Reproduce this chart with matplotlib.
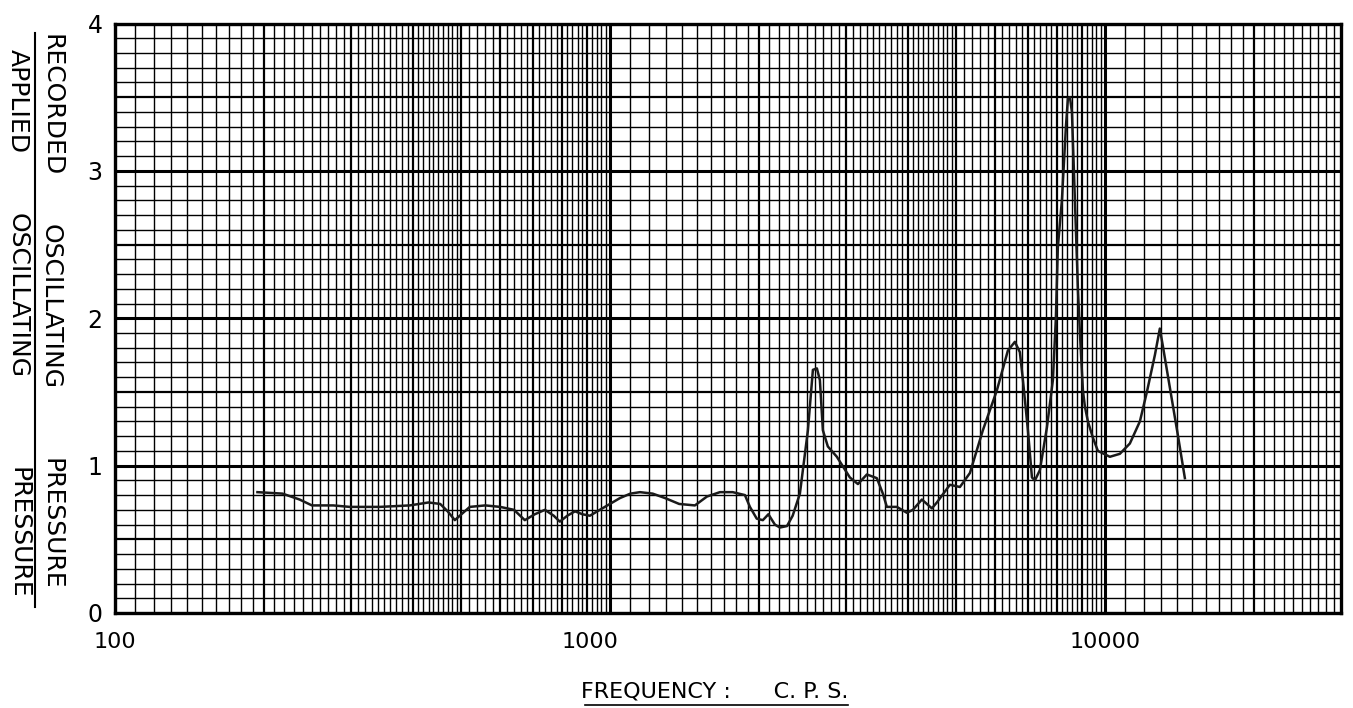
import numpy as np
import matplotlib.pyplot as plt
import matplotlib.transforms as mtransforms
from matplotlib.lines import Line2D

# frequency response of the gauge: recorded / applied oscillating pressure
freq = [194, 218, 236, 250, 276, 298, 343, 394, 430, 454, 470, 486, 505, 521,
        560, 600, 640, 673, 705, 739, 770, 792, 820, 850, 880, 911, 954, 1000,
        1048, 1100, 1150, 1220, 1292, 1380, 1485, 1570, 1668, 1770, 1874, 1918,
        1980, 2037, 2090, 2154, 2205, 2279, 2340, 2420, 2512, 2571, 2619, 2656,
        2693, 2756, 2874, 3053, 3170, 3305, 3462, 3560, 3627, 3800, 3981, 4094,
        4269, 4472, 4577, 4863, 5095, 5338, 5669, 6050, 6368, 6579, 6734, 6831,
        6991, 7123, 7223, 7392, 7638, 7852, 7962, 8035, 8188, 8343, 8420, 8500,
        8579, 8659, 8740, 8822, 8904, 9030, 9114, 9242, 9458, 9680, 10235, 10722,
        11233, 11770, 12160, 12620, 12915, 13100, 13530, 14040, 14510]
ratio = [0.82, 0.81, 0.77, 0.73, 0.73, 0.72, 0.72, 0.73, 0.75, 0.74, 0.69, 0.63,
         0.68, 0.72, 0.73, 0.72, 0.70, 0.63, 0.67, 0.70, 0.66, 0.62, 0.66, 0.69,
         0.67, 0.66, 0.70, 0.74, 0.78, 0.81, 0.82, 0.81, 0.78, 0.74, 0.73, 0.79,
         0.82, 0.82, 0.80, 0.72, 0.64, 0.63, 0.67, 0.60, 0.58, 0.59, 0.66, 0.81,
         1.24, 1.65, 1.66, 1.58, 1.24, 1.13, 1.06, 0.92, 0.875, 0.94, 0.915, 0.81,
         0.72, 0.72, 0.68, 0.70, 0.77, 0.71, 0.75, 0.87, 0.855, 0.95, 1.24, 1.51,
         1.78, 1.84, 1.77, 1.58, 1.24, 0.92, 0.90, 0.97, 1.26, 1.58, 2.0, 2.48,
         2.8, 3.3, 3.49, 3.5, 3.4, 3.0, 2.6, 2.2, 1.9, 1.51, 1.4, 1.3, 1.19, 1.1,
         1.06, 1.08, 1.15, 1.3, 1.5, 1.75, 1.93, 1.81, 1.53, 1.21, 0.915]

y_ticks = [0, 1, 2, 3, 4]
x_ticks = [100, 1000, 10000]
x_labels = ["100", "1000", "10000"]

W, H = 1353, 708
fig = plt.figure(figsize=(W / 100, H / 100), dpi=100)
ax = fig.add_axes([115 / W, 1 - 613 / H, (1341 - 115) / W, (613 - 23.5) / H])
ax.set_xscale("log")
ax.set_xlim(100, 30000)
ax.set_ylim(0, 4)

# log paper: fine rulings, heavier on whole multiples and decades
mults = np.round(np.concatenate([np.arange(1, 5, 0.1), np.arange(5, 10, 0.2)]), 2)
for decade in [100, 1000, 10000]:
    for m in mults:
        f = decade * m
        if f >= 30000:
            break
        if m == 1:
            lw = 2.2
        elif m == int(m):
            lw = 1.6
        else:
            lw = 1.0
        ax.axvline(f, color="black", lw=lw, zorder=1)

for v in np.round(np.arange(0, 4.01, 0.1), 1):
    if v == int(v):
        lw = 2.2
    elif abs(v * 2 - round(v * 2)) < 1e-6:
        lw = 1.6
    else:
        lw = 1.0
    ax.axhline(v, color="black", lw=lw, zorder=1)

ax.plot(freq, ratio, color="#1a1a1a", lw=1.8, zorder=3)

for s in ax.spines.values():
    s.set_linewidth(2.4)

ax.set_yticks(y_ticks)
ax.set_yticklabels([str(t) for t in y_ticks], fontsize=17)
ax.set_xticks(x_ticks)
ax.set_xticklabels(x_labels, fontsize=16)
ax.xaxis.set_minor_locator(plt.NullLocator())
ax.tick_params(axis="both", length=0)
ax.tick_params(axis="y", pad=9)
ax.tick_params(axis="x", pad=14)

# the hand-lettered "1000" sits a little left of its ruling
lbl = ax.get_xticklabels()[1]
lbl.set_transform(lbl.get_transform() +
                  mtransforms.ScaledTranslation(-0.2, 0, fig.dpi_scale_trans))

# fraction-style y label
num_words = [("RECORDED", 105), ("OSCILLATING", 307), ("PRESSURE", 524)]
den_words = [("APPLIED", 101), ("OSCILLATING", 295), ("PRESSURE", 533)]
for word, yc in num_words:
    fig.text(51 / W, 1 - yc / H, word, rotation=-90, ha="center", va="center",
             fontsize=18)
for word, yc in den_words:
    fig.text(18 / W, 1 - yc / H, word, rotation=-90, ha="center", va="center",
             fontsize=18)
fig.add_artist(Line2D([35 / W, 35 / W], [1 - 33 / H, 1 - 607 / H],
                      color="black", lw=1.5))

fig.text(715 / W, 1 - 692 / H, "FREQUENCY :      C. P. S.", ha="center",
         va="center", fontsize=16)
fig.add_artist(Line2D([585 / W, 848 / W], [1 - 705 / H, 1 - 705 / H],
                      color="black", lw=1.2))

fig.savefig("out.png", dpi=100, facecolor="white")
